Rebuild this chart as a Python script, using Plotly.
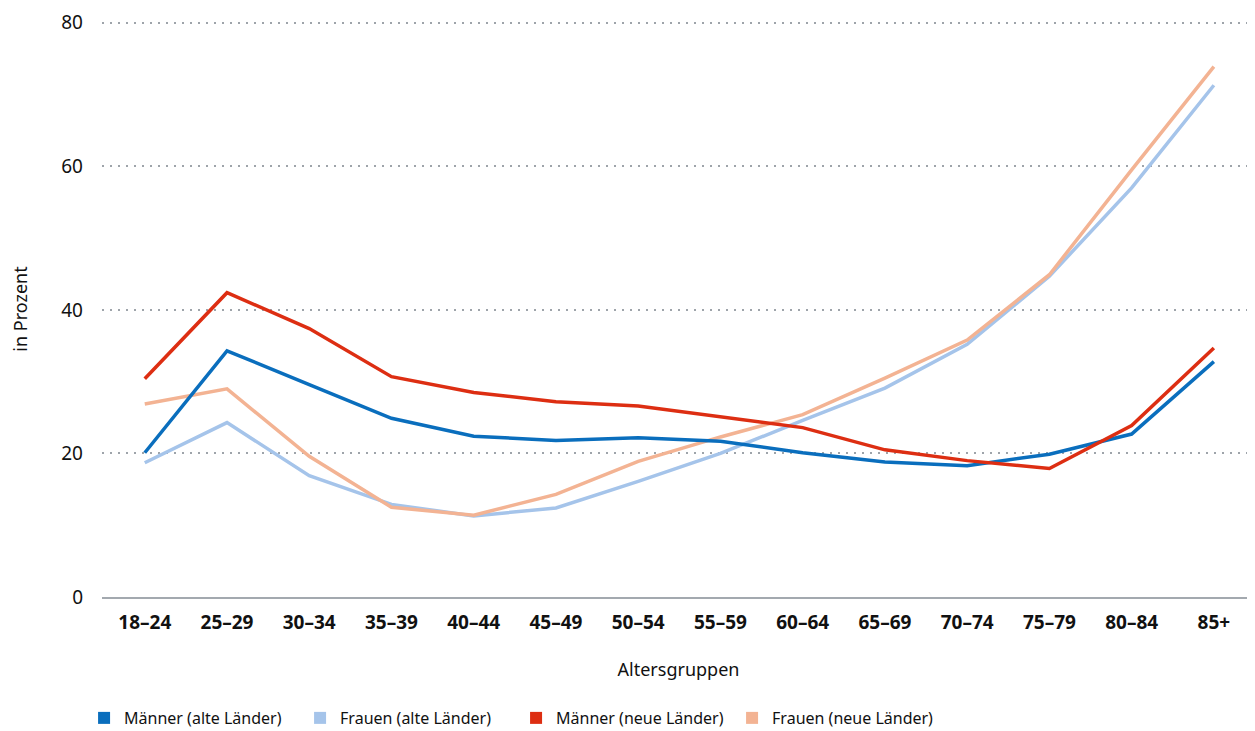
import plotly.graph_objects as go

categories = ["18–24", "25–29", "30–34", "35–39", "40–44", "45–49", "50–54",
              "55–59", "60–64", "65–69", "70–74", "75–79", "80–84", "85+"]

maenner_alt = [20.1, 34.3, 29.6, 24.9, 22.4, 21.8, 22.2, 21.7, 20.1, 18.8, 18.3, 19.9, 22.7, 32.8]
frauen_alt = [18.7, 24.3, 16.9, 12.9, 11.3, 12.4, 16.1, 20.0, 24.6, 29.1, 35.2, 44.7, 57.0, 71.3]
maenner_neu = [30.4, 42.4, 37.4, 30.7, 28.5, 27.2, 26.6, 25.1, 23.6, 20.5, 19.0, 17.9, 23.9, 34.7]
frauen_neu = [26.9, 29.0, 19.6, 12.5, 11.4, 14.3, 18.9, 22.3, 25.4, 30.5, 35.8, 44.9, 59.5, 73.9]

series_names = ["Männer (alte Länder)", "Frauen (alte Länder)",
                "Männer (neue Länder)", "Frauen (neue Länder)"]
series_values = [maenner_alt, frauen_alt, maenner_neu, frauen_neu]
colors = ["#0a6ebd", "#a5c4ea", "#dd2e12", "#f3b393"]

fig = go.Figure()
draw_order = [1, 3, 0, 2]
for i in draw_order:
    fig.add_trace(go.Scatter(
        x=categories, y=series_values[i], mode="lines",
        line=dict(color=colors[i], width=3.5),
        name=series_names[i], showlegend=False))

for i in range(4):
    fig.add_trace(go.Scatter(
        x=[None], y=[None], mode="markers",
        marker=dict(symbol="square", size=17, color=colors[i]),
        name=series_names[i], showlegend=True))

font_family = "Noto Sans, Open Sans, sans-serif"

fig.update_layout(
    width=1247, height=723,
    margin=dict(l=94, r=0, t=13, b=134, autoexpand=False),
    plot_bgcolor="white", paper_bgcolor="white",
    font=dict(family=font_family, size=18, color="#111111"),
    showlegend=True,
    legend=dict(orientation="h", xref="container", x=0.061, xanchor="left",
                yref="container", y=0.018, yanchor="middle",
                font=dict(size=16, family=font_family), itemwidth=30,
                entrywidth=171, entrywidthmode="pixels",
                tracegroupgap=0, itemsizing="constant"),
    xaxis=dict(
        type="category", range=[-0.52, 13.5],
        showgrid=False, showline=True, linecolor="#a3a9af", linewidth=2,
        ticks="", tickfont=dict(size=19, family=font_family, weight="bold"),
        ticklabelstandoff=7,
        title=dict(text="Altersgruppen", font=dict(size=18), standoff=30),
    ),
    yaxis=dict(
        range=[0, 80.25], tickvals=[0, 20, 40, 60, 80],
        showgrid=True, gridcolor="#9ea4aa", gridwidth=2, griddash="2px,6px",
        zeroline=False, showline=False, ticks="",
        tickfont=dict(size=19), ticklabelstandoff=18,
        title=dict(text="in Prozent", font=dict(size=18), standoff=31),
    ),
)

fig.write_html("out.html")
